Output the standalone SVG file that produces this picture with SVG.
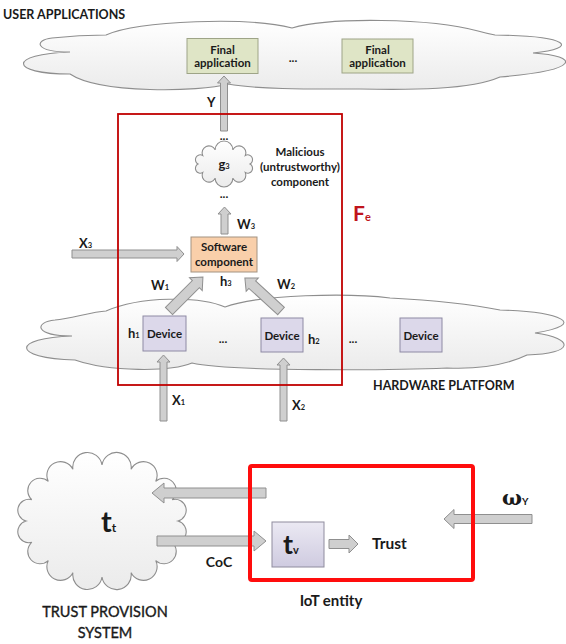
<svg xmlns="http://www.w3.org/2000/svg" width="566" height="644" viewBox="0 0 566 644">
  <defs>
    <linearGradient id="cloudFill" x1="0" y1="0" x2="0" y2="1">
      <stop offset="0" stop-color="#ffffff"/>
      <stop offset="1" stop-color="#ebebeb"/>
    </linearGradient>
    <linearGradient id="tvFill" x1="0" y1="0" x2="0" y2="1">
      <stop offset="0" stop-color="#ebe9f3"/>
      <stop offset="1" stop-color="#cfcbe0"/>
    </linearGradient>
    <style>
      .cloud { fill: url(#cloudFill); stroke: #8e8e8e; stroke-width: 1.1; }
      .arr { fill: #cfcfcf; stroke: #8f8f8f; stroke-width: 1; }
      .app { fill: #dfe5c6; stroke: #9ea487; stroke-width: 1; }
      .dev { fill: #dcd8ea; stroke: #8e8aa4; stroke-width: 1; }
      .sw { fill: #f9cfaa; stroke: #a39382; stroke-width: 1; }
      .t { font-family: Lato, "Liberation Sans", sans-serif; font-weight: bold; fill: #1a1a1a; }
      .n { font-family: Lato, "Liberation Sans", sans-serif; font-weight: normal; fill: #1a1a1a; stroke: #1a1a1a; stroke-width: 0.35; }
      .s { font-size: 11.5px; text-anchor: middle; }
      .lbl { font-size: 13px; }
      .sub { font-size: 7.5px; }
      .dots { font-size: 12px; text-anchor: middle; }
    </style>
  </defs>

  <!-- cloud backdrops -->
  <g id="user-applications-cloud">
    <path class="cloud" d="M70,52 C34,52 34,40 52,38 C70,36 92,35 106,35 C140,20 250,17 292,28 C330,17 430,18 478,31 C485,33 490,34 495,35 C570,36 580,48 533,53 C580,56 582,70 500,77 C470,90 410,90 360,89 C320,89 260,90 228,84 C200,92 100,94 70,74 C8,74 8,54 70,52 Z"/>
  </g>
  <g id="hardware-platform-cloud">
    <path class="cloud" d="M72,336 C34,336 34,322 55,320 C72,318 92,312 106,311 C140,296 200,296 225,307 C260,294 350,293 390,298 C430,300 470,304 500,310 C560,312 590,324 535,333 C575,338 575,354 527,355 C500,368 470,369 447,368 C400,370 230,372 192,363 C170,372 110,372 75,360 C10,358 12,338 72,336 Z"/>
  </g>
  <g id="malicious-component">
    <path class="cloud" d="M198,164 A1,1 0 0 1 202.7,155.4 A1,1 0 0 1 215.1,149.9 A1,1 0 0 1 232.9,149.9 A1,1 0 0 1 245.3,155.4 A1,1 0 0 1 250,164 A1,1 0 0 1 245.3,172.6 A1,1 0 0 1 232.9,178.1 A1,1 0 0 1 215.1,178.1 A1,1 0 0 1 202.7,172.6 A1,1 0 0 1 198,164 Z"/>
    <text class="t" x="224" y="168.5" font-size="13" text-anchor="middle">g<tspan class="sub">3</tspan></text>
  </g>
  <g id="trust-provision-system">
    <path class="cloud" d="M26,521 A1,1 0 0 1 31.8,499.6 A1,1 0 0 1 48.3,481.4 A1,1 0 0 1 72.9,469.3 A1,1 0 0 1 102,465 A1,1 0 0 1 131.1,469.3 A1,1 0 0 1 155.7,481.4 A1,1 0 0 1 172.2,499.6 A1,1 0 0 1 178,521 A1,1 0 0 1 172.2,542.4 A1,1 0 0 1 155.7,560.6 A1,1 0 0 1 131.1,572.7 A1,1 0 0 1 102,577 A1,1 0 0 1 72.9,572.7 A1,1 0 0 1 48.3,560.6 A1,1 0 0 1 31.8,542.4 A1,1 0 0 1 26,521 Z"/>
    <text class="t" x="101" y="532" font-size="29">t<tspan font-size="12">t</tspan></text>
  </g>

  <!-- nodes -->
  <g id="final-application-1">
    <rect class="app" x="187" y="38.5" width="71" height="35"/>
    <text class="t s" x="222.5" y="53.5">Final</text>
    <text class="t s" x="222.5" y="67">application</text>
  </g>
  <g id="final-application-2">
    <rect class="app" x="342" y="39" width="71" height="34"/>
    <text class="t s" x="377.5" y="53.5">Final</text>
    <text class="t s" x="377.5" y="67">application</text>
  </g>
  <g id="software-component">
    <rect class="sw" x="191" y="237" width="66" height="35"/>
    <text class="t s" x="224" y="251">Software</text>
    <text class="t s" x="224" y="266">component</text>
  </g>
  <g id="device-1">
    <rect class="dev" x="143" y="316" width="43" height="35"/>
    <text class="t s" x="164.5" y="337.5">Device</text>
  </g>
  <g id="device-2">
    <rect class="dev" x="261" y="318" width="42" height="34"/>
    <text class="t s" x="282" y="339.5">Device</text>
  </g>
  <g id="device-3">
    <rect class="dev" x="400" y="318" width="42" height="34"/>
    <text class="t s" x="421" y="339.5">Device</text>
  </g>
  <g id="trust-verifier">
    <rect x="272" y="522" width="52" height="45" fill="url(#tvFill)" stroke="#8f8c9e" stroke-width="1"/>
    <text class="t" x="283" y="554" font-size="27">t<tspan font-size="11">v</tspan></text>
  </g>

  <!-- connectors -->
  <g id="connectors">
    <path class="arr" d="M220.5,131 V83 H217.5 L224,76 L230.5,83 H227.5 V131 Z"/>
    <path class="arr" d="M221,234 V214 H218 L224.5,207 L231,214 H228 V234 Z"/>
    <path class="arr" d="M72,250 H177 V246.5 L184,254 L177,261.5 V258 H72 Z"/>
    <path class="arr" transform="translate(169,311) rotate(-45)" d="M0,-5 H38 V-9 L48,0 L38,9 V5 H0 Z"/>
    <path class="arr" transform="translate(281,311) rotate(-137.5)" d="M0,-5 H39 V-9 L49,0 L39,9 V5 H0 Z"/>
    <path class="arr" d="M160,421 V362 H157 L163.5,355 L170,362 H167 V421 Z"/>
    <path class="arr" d="M280,421 V365 H277 L283.5,358 L290,365 H287 V421 Z"/>
    <path class="arr" d="M266,488 H164 V483 L152,493 L164,503 V498 H266 Z"/>
    <path class="arr" d="M157,536 H254 V531 L266,541 L254,551 V546 H157 Z"/>
    <path class="arr" d="M329,539.5 H349 V535 L358,544 L349,553 V548.5 H329 Z"/>
    <path class="arr" d="M532,514.5 H454 V509.5 L444,519 L454,528.5 V523.5 H532 Z"/>
  </g>

  <!-- boundaries -->
  <g id="composed-function-boundary">
    <rect x="118" y="114" width="224" height="271" fill="none" stroke="#c00000" stroke-width="1.8"/>
    <text class="t" x="353" y="221" font-size="21" style="fill:#c0141c">F<tspan font-size="11">e</tspan></text>
  </g>
  <g id="iot-entity">
    <rect x="250" y="466" width="223" height="114" rx="2" fill="none" stroke="#ff0d0d" stroke-width="4"/>
    <text class="t" x="331" y="606" font-size="15" text-anchor="middle">IoT entity</text>
  </g>

  <!-- labels -->
  <g id="labels">
    <text class="t" x="3" y="19" font-size="12.5">USER APPLICATIONS</text>
    <text class="t dots" x="293" y="62">...</text>
    <text class="t lbl" x="207" y="107">Y</text>
    <text class="t dots" x="224" y="140">...</text>
    <text class="t dots" x="224" y="198">...</text>
    <text class="t s" x="300" y="156">Malicious</text>
    <text class="t s" x="300" y="171">(untrustworthy)</text>
    <text class="t s" x="300" y="185.5">component</text>
    <text class="t lbl" x="237" y="229">W<tspan class="sub">3</tspan></text>
    <text class="t lbl" x="79" y="248">X<tspan class="sub">3</tspan></text>
    <text class="t lbl" x="151" y="290">W<tspan class="sub">1</tspan></text>
    <text class="t lbl" x="220" y="286">h<tspan class="sub">3</tspan></text>
    <text class="t lbl" x="277" y="289">W<tspan class="sub">2</tspan></text>
    <text class="t lbl" x="128" y="338">h<tspan class="sub">1</tspan></text>
    <text class="t lbl" x="308" y="344">h<tspan class="sub">2</tspan></text>
    <text class="t dots" x="223" y="343">...</text>
    <text class="t dots" x="353" y="343">...</text>
    <text class="t lbl" x="172" y="405">X<tspan class="sub">1</tspan></text>
    <text class="t lbl" x="292" y="410">X<tspan class="sub">2</tspan></text>
    <text class="t" x="373" y="390" font-size="12.5">HARDWARE PLATFORM</text>
    <text class="t" x="219" y="567" font-size="14" text-anchor="middle">CoC</text>
    <text class="t" x="372" y="549" font-size="15.5">Trust</text>
    <text x="502" y="505" font-family="'DejaVu Serif', 'Liberation Serif', serif" font-weight="bold" font-size="21" fill="#1a1a1a">ω<tspan font-family="Lato, 'Liberation Sans', sans-serif" font-size="10">Y</tspan></text>
    <text class="n" x="105" y="617" font-size="14.5" text-anchor="middle">TRUST PROVISION</text>
    <text class="n" x="105" y="638" font-size="14.5" text-anchor="middle">SYSTEM</text>
  </g>
</svg>
